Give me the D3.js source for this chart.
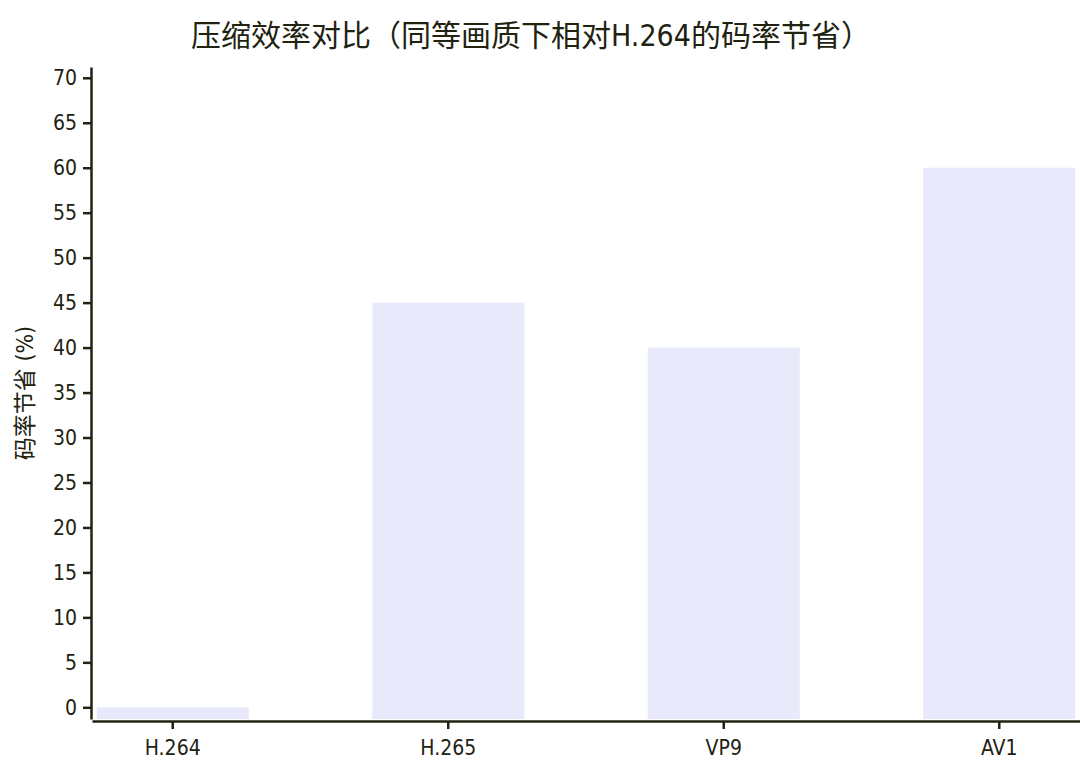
<!DOCTYPE html>
<html>
<head>
<meta charset="utf-8">
<script src="https://cdn.jsdelivr.net/npm/d3@7"></script>
<style>
  html, body { margin: 0; padding: 0; background: #fff; }
  text { font-family: "DejaVu Sans Condensed", "Noto Sans CJK SC", sans-serif; fill: #222211; }
</style>
</head>
<body>
<div id="chart"></div>
<script>
const codecs = ["H.264", "H.265", "VP9", "AV1"];
const savings = [0, 45, 40, 60];
const yTicks = [0, 5, 10, 15, 20, 25, 30, 35, 40, 45, 50, 55, 60, 65, 70];

const titleText = "压缩效率对比（同等画质下相对H.264的码率节省）";
const yLabel = "码率节省 (%)";

function drawBars() {
  const width = 1080, height = 771;
  const margin = {top: 67, right: 0, bottom: 50, left: 92};
  const ink = "#222211";

  const svg = d3.select("#chart")
    .append("svg")
    .attr("width", width)
    .attr("height", height);

  const x = d3.scaleBand()
    .domain(codecs)
    .range([margin.left, width - margin.right])
    .paddingInner(0.448)
    .paddingOuter(0.017);

  const y = d3.scaleLinear()
    .domain([-1.3, 71.2])
    .range([height - margin.bottom - 2, margin.top]);

  // bars start at the bottom of the plot, not at zero
  svg.append("g")
    .selectAll("rect")
    .data(codecs)
    .join("rect")
    .attr("x", d => x(d))
    .attr("width", x.bandwidth())
    .attr("y", (d, i) => y(savings[i]))
    .attr("height", (d, i) => y.range()[0] - y(savings[i]))
    .attr("fill", "#e9e9fc");

  const yAxis = svg.append("g")
    .attr("transform", `translate(${margin.left - 1},0)`)
    .call(d3.axisLeft(y).tickValues(yTicks).tickSize(8).tickPadding(6).tickSizeOuter(0));

  const xAxis = svg.append("g")
    .attr("transform", `translate(0,${height - margin.bottom})`)
    .call(d3.axisBottom(x).tickSize(8).tickPadding(11).tickSizeOuter(0));

  [yAxis, xAxis].forEach(g => {
    g.select(".domain").attr("stroke", ink).attr("stroke-width", 2.5);
    g.selectAll(".tick line").attr("stroke", ink).attr("stroke-width", 2.5);
    g.selectAll(".tick text")
      .attr("fill", ink)
      .style("font-size", "21px");
  });

  svg.append("text")
    .attr("x", 531)
    .attr("y", 46)
    .attr("text-anchor", "middle")
    .style("font-size", "30px")
    .text(titleText);

  svg.append("text")
    .attr("transform", `translate(33,${(y.range()[0] + y.range()[1]) / 2}) rotate(-90)`)
    .attr("text-anchor", "middle")
    .style("font-size", "23px")
    .text(yLabel);
}

drawBars();
</script>
</body>
</html>
